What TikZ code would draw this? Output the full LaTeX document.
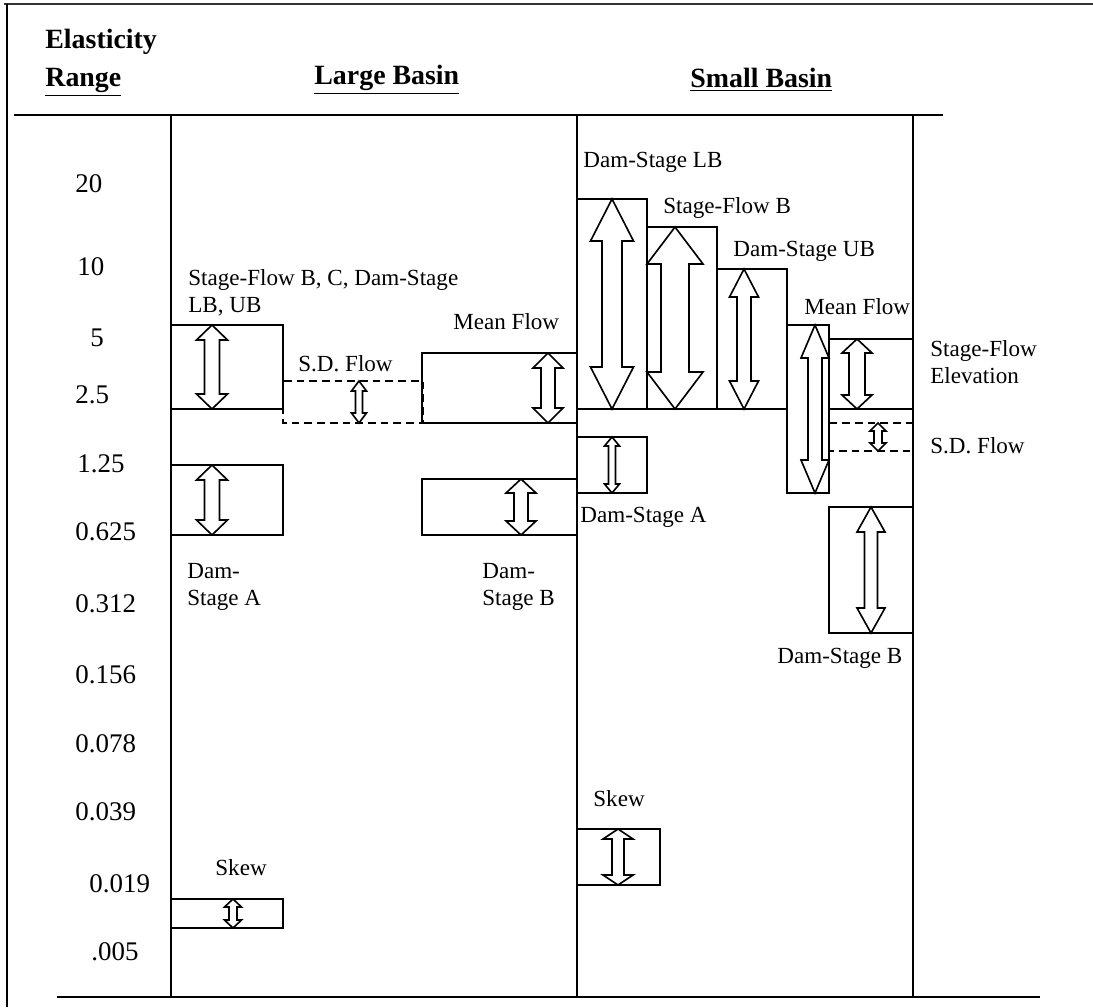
\documentclass[tikz,border=0pt]{standalone}
\usepackage{fontspec}
\setmainfont{Liberation Serif}
\usepackage{tikz}
\usetikzlibrary{positioning}
\tikzstyle{frame} = [line width=1.5pt, black!80]
\tikzstyle{rule} = [line width=1.2pt]
\tikzstyle{col} = [line width=1pt]
\tikzstyle{bar} = [draw=black, line width=0.85pt]
\tikzstyle{sdbar} = [bar, dash pattern=on 4pt off 2.6pt]
\tikzstyle{arrowbox} = [draw=black, fill=white, line width=0.85pt, line join=miter]
\tikzstyle{lbl} = [anchor=west, inner sep=0pt, align=left, font=\fontsize{12}{14}\selectfont]
\tikzstyle{elast} = [anchor=west, inner sep=0pt, font=\fontsize{14}{16}\selectfont]
\tikzstyle{head} = [anchor=west, inner sep=0pt, align=left, font=\bfseries\fontsize{14.5}{20}\selectfont]
% x, top, bottom, head half width, shaft half width, head length
\newcommand{\biarrow}[6]{\draw[arrowbox] (#1,#2) -- (#1+#4,#2+#6) -- (#1+#5,#2+#6) -- (#1+#5,#3-#6) -- (#1+#4,#3-#6) -- (#1,#3) -- (#1-#4,#3-#6) -- (#1-#5,#3-#6) -- (#1-#5,#2+#6) -- (#1-#4,#2+#6) -- cycle;}

\begin{document}
\begin{tikzpicture}[x=0.52pt, y=-0.52pt]
\useasboundingbox (0,0) rectangle (1093,1007);

% page frame and table rules
\draw[frame] (4,4) -- (1093,4);
\draw[rule] (7,4) -- (7,1007);
\draw[rule] (14,115) -- (943,115);
\draw[rule] (57,997) -- (1040,997);
\draw[col] (171,115) -- (171,997);
\draw[col] (577,115) -- (577,997);
\draw[col] (913,115) -- (913,997);

\node (elas) [head] at (45,42) {Elasticity};
\node (range) [head] at (45,82) {\underline{Range}};
\node (large) [head] at (314,80) {\underline{Large Basin}};
\node (small) [head] at (690,80) {\underline{Small Basin}};

\node (e20) [elast] at (75,184) {20};
\node (e10) [elast] at (77,267) {10};
\node (e5) [elast] at (90,338) {5};
\node (e25) [elast] at (75,395) {2.5};
\node (e125) [elast] at (77,464) {1.25};
\node (e0625) [elast] at (75,532) {0.625};
\node (e0312) [elast] at (75,604) {0.312};
\node (e0156) [elast] at (75,675) {0.156};
\node (e0078) [elast] at (75,744) {0.078};
\node (e0039) [elast] at (75,812) {0.039};
\node (e0019) [elast] at (89,884) {0.019};
\node (e0005) [elast] at (91,952) {.005};

% large basin
\draw[bar] (171,325) rectangle (283,409);
\draw[sdbar] (283,381) rectangle (423,423);
\draw[bar] (422,353) rectangle (577,423);
\draw[bar] (171,465) rectangle (283,535);
\draw[bar] (422,479) rectangle (577,535);
\draw[bar] (171,899) rectangle (283,928);
\biarrow{212}{325}{409}{15.5}{7.5}{15}
\biarrow{359}{381}{423}{7.5}{3.5}{10}
\biarrow{548}{353}{423}{15}{7}{15}
\biarrow{212}{465}{535}{15.5}{7.5}{15}
\biarrow{521}{479}{535}{15}{7}{14}
\biarrow{233}{899}{928}{8.5}{4}{8}

\node (lsfb) [lbl] at (188,293) {Stage-Flow B, C, Dam-Stage\\LB, UB};
\node (lsd) [lbl] at (298,364) {S.D. Flow};
\node (lmf) [lbl] at (453,322) {Mean Flow};
\node (lda) [lbl] at (187,587) {Dam-\\Stage A};
\node (ldb) [lbl] at (482,587) {Dam-\\Stage B};
\node (lsk) [lbl] at (215,868) {Skew};

% small basin
\draw[bar] (577,199) rectangle (647,409);
\draw[bar] (647,227) rectangle (717,409);
\draw[bar] (717,269) rectangle (787,409);
\draw[bar] (787,325) rectangle (829,493);
\draw[bar] (829,339) rectangle (913,409);
\draw[sdbar] (829,423) rectangle (913,451);
\draw[bar] (577,437) rectangle (647,493);
\draw[bar] (829,507) rectangle (913,633);
\draw[bar] (577,829) rectangle (660,885);
\biarrow{612}{199}{409}{21.5}{10}{42}
\biarrow{675}{227}{409}{28}{14}{37}
\biarrow{744}{269}{409}{14.5}{7}{28}
\biarrow{815}{325}{493}{14}{7}{33}
\biarrow{857}{339}{409}{15}{8}{14}
\biarrow{878}{423}{451}{8}{4}{8}
\biarrow{612}{437}{493}{7.5}{3.5}{9}
\biarrow{871}{507}{633}{14}{6.5}{25}
\biarrow{618}{829}{885}{15}{6}{10}

\node (sdlb) [lbl] at (583,162) {Dam-Stage LB};
\node (ssfb) [lbl] at (663,208) {Stage-Flow B};
\node (sdub) [lbl] at (733,251) {Dam-Stage UB};
\node (smf) [lbl] at (804,307) {Mean Flow};
\node (ssfe) [lbl] at (930,362) {Stage-Flow\\Elevation};
\node (ssd) [lbl] at (930,446) {S.D. Flow};
\node (sda) [lbl] at (580,517) {Dam-Stage A};
\node (sdb) [lbl] at (777,658) {Dam-Stage B};
\node (ssk) [lbl] at (593,799) {Skew};
\end{tikzpicture}
\end{document}
